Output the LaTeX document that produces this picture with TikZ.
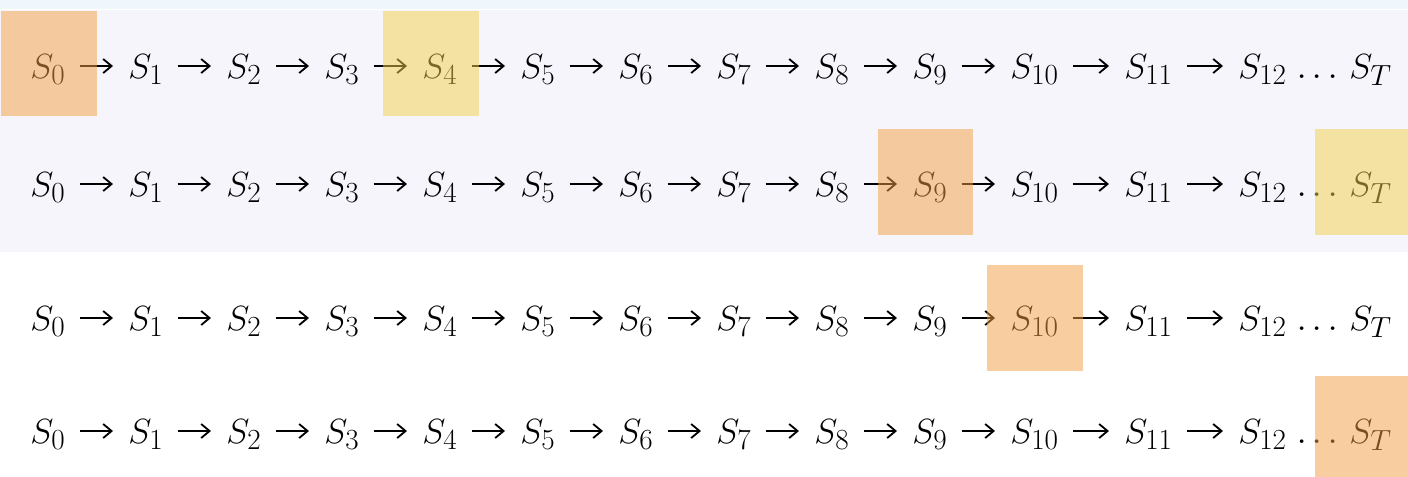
\documentclass[tikz,border=0pt]{standalone}
\usetikzlibrary{arrows.meta, positioning}
\definecolor{topstrip}{RGB}{239, 247, 252}
\definecolor{lavenderbg}{RGB}{247, 245, 252}
\definecolor{peachmark}{RGB}{242, 158, 66}
\definecolor{yellowmark}{RGB}{241, 209, 74}

\tikzset{
  state/.style={inner sep=0pt, anchor=base west, font=\fontsize{32}{36}\selectfont},
  trans/.style={-{Straight Barb[length=6pt, width=10pt]}, line width=1.3pt},
  hlbox/.style={fill=#1, fill opacity=0.5}
}

\begin{document}
\begin{tikzpicture}[x=0.025cm, y=-0.025cm]
  \useasboundingbox (0,0) rectangle (1408,476);
  \clip (0,0) rectangle (1408,476);
  \fill[white] (0,0) rectangle (1408,476);
  \fill[topstrip] (0,0) rectangle (1408,9);
  \fill[lavenderbg] (0,10) rectangle (1408,252);
  % four copies of the chain
  \foreach \r/\y in {1/78, 2/196, 3/330, 4/443} {
    \foreach \i/\x in {0/30, 1/128, 2/226, 3/324, 4/422, 5/520, 6/618, 7/716, 8/814, 9/912, 10/1010, 11/1124, 12/1238}
      \node[state] (r\r s\i) at (\x,\y) {$S_{\i}$};
    \node[state] (r\r dots) at (1296,\y) {.\kern3pt.\kern3pt.};
    \node[state] (r\r sT) at (1349,\y) {$S_T$};
    \foreach \i [evaluate=\i as \j using int(\i+1)] in {0,...,11}
      \draw[trans] ([shift={(14,-12)}]r\r s\i.base east) -- ([shift={(-15,-12)}]r\r s\j.base west);
  }
  % highlighted states
  \fill[hlbox=peachmark] (1,11) rectangle (97,116);
  \fill[hlbox=yellowmark] (383,11) rectangle (479,116);
  \fill[hlbox=peachmark] (878,129) rectangle (973,235);
  \fill[hlbox=yellowmark] (1315,129) rectangle (1411,235);
  \fill[hlbox=peachmark] (987,265) rectangle (1083,371);
  \fill[hlbox=peachmark] (1315,376) rectangle (1411,481);
\end{tikzpicture}
\end{document}
